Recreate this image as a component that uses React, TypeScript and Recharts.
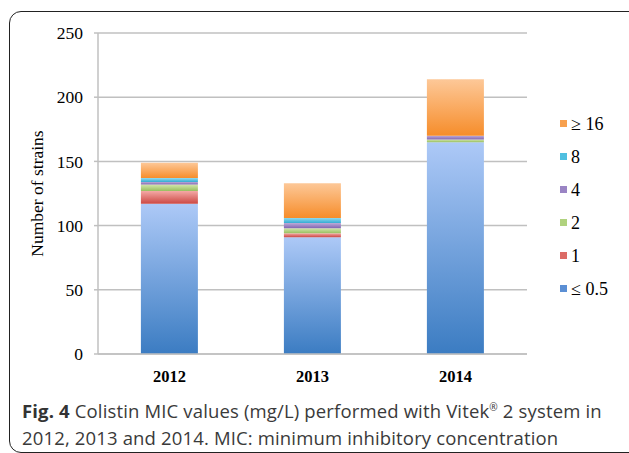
import React from 'react';
import { BarChart, Bar, XAxis, YAxis, CartesianGrid, Legend } from 'recharts';

const YEARS = ['2012', '2013', '2014'];
const MIC_LE_05 = [117, 91, 165];
const MIC_1 = [10, 3, 0];
const MIC_2 = [5, 4, 2];
const MIC_4 = [2, 4, 3];
const MIC_8 = [3, 4, 0];
const MIC_GE_16 = [12, 27, 44];
const Y_TICKS = [0, 50, 100, 150, 200, 250];
const EDGE_TICKS = [0, 1, 2, 3];

// bottom-to-top stacking order
const SERIES = [
  { key: 'le05', name: '≤ 0.5', top: '#adc9f7', bottom: '#3b7cc2', swatch: '#5b8fd4' },
  { key: 'm1', name: '1', top: '#f4a9a6', bottom: '#cc4843', swatch: '#dc6b66' },
  { key: 'm2', name: '2', top: '#d2e6ad', bottom: '#99bf60', swatch: '#b0d27e' },
  { key: 'm4', name: '4', top: '#bcaad8', bottom: '#8165b2', swatch: '#9a84c4' },
  { key: 'm8', name: '8', top: '#93daef', bottom: '#33acd3', swatch: '#4fbfe0' },
  { key: 'ge16', name: '≥ 16', top: '#fdc898', bottom: '#f68d2b', swatch: '#f7a04e' },
];

const data = YEARS.map((year, i) => ({
  year,
  le05: MIC_LE_05[i],
  m1: MIC_1[i],
  m2: MIC_2[i],
  m4: MIC_4[i],
  m8: MIC_8[i],
  ge16: MIC_GE_16[i],
}));

const serif = '"Liberation Serif", "Times New Roman", serif';
const gridColor = '#c0c0c0';

const LegendList = () => (
  <div>
    {[...SERIES].reverse().map((s) => (
      <div key={s.key} style={{ height: 33, display: 'flex', alignItems: 'center' }}>
        <span style={{ width: 7, height: 7, background: s.swatch, display: 'inline-block', marginRight: 4, marginTop: -3 }} />
        <span style={{ fontFamily: serif, fontSize: 18, color: '#000' }}>{s.name}</span>
      </div>
    ))}
  </div>
);

const YLabel = ({ viewBox }: any) => {
  const cy = viewBox.y + viewBox.height / 2;
  return (
    <text x={37} y={cy} transform={`rotate(-90 37 ${cy})`} textAnchor="middle" dominantBaseline="central"
      style={{ fontFamily: serif, fontSize: 17.5 }} fill="#000">
      Number of strains
    </text>
  );
};

export default function App() {
  return (
    <div style={{ position: 'absolute', left: 0, top: 0, width: 629, height: 453, overflow: 'hidden', background: '#fff' }}>
      <div style={{
        position: 'absolute', left: 9, top: 11, width: 640, height: 440,
        border: '1.5px solid #222', borderRadius: 12,
      }} />
      <div style={{ position: 'absolute', left: 0, top: 0 }}>
        <BarChart width={629} height={400} data={data} margin={{ top: 33, right: 102, left: 10, bottom: 16 }}
          barCategoryGap="30%">
          <defs>
            {SERIES.map((s) => (
              <linearGradient key={s.key} id={`g-${s.key}`} x1="0" y1="0" x2="0" y2="1">
                <stop offset="0%" stopColor={s.top} />
                <stop offset="100%" stopColor={s.bottom} />
              </linearGradient>
            ))}
          </defs>
          <CartesianGrid vertical={false} stroke={gridColor} strokeWidth={1.5} />
          <XAxis xAxisId="edges" type="number" domain={[0, 3]} ticks={EDGE_TICKS} height={0}
            axisLine={false} tick={false} tickSize={5} stroke={gridColor} tickLine={{ stroke: gridColor, strokeWidth: 1.5 }} />
          <XAxis xAxisId="cat" dataKey="year" height={30} tickLine={false}
            axisLine={{ stroke: gridColor, strokeWidth: 1.5 }} tickMargin={10}
            tick={{ fontFamily: serif, fontSize: 16.5, fontWeight: 'bold', fill: '#000' }} />
          <YAxis width={88} domain={[0, 250]} ticks={Y_TICKS} tickSize={4} tickMargin={11}
            axisLine={{ stroke: gridColor, strokeWidth: 1.5 }} tickLine={{ stroke: gridColor, strokeWidth: 1.5 }}
            tick={{ fontFamily: serif, fontSize: 17.5, fill: '#000' }} label={<YLabel />} />
          <Legend layout="vertical" align="center" verticalAlign="middle" content={<LegendList />}
            wrapperStyle={{ left: 560, top: 108, width: 66, height: 200 }} />
          {SERIES.map((s) => (
            <Bar key={s.key} xAxisId="cat" dataKey={s.key} name={s.name} stackId="mic"
              fill={`url(#g-${s.key})`} isAnimationActive={false} />
          ))}
        </BarChart>
      </div>
      <div style={{
        position: 'absolute', left: 22, top: 394, width: 610, whiteSpace: 'nowrap', letterSpacing: 0.15,
        fontFamily: '"Open Sans", sans-serif', fontSize: 18.5, lineHeight: '27px', color: '#3a3a3a',
      }}>
        <b style={{ color: '#333' }}>Fig. 4</b> Colistin MIC values (mg/L) performed with Vitek
        <span style={{ fontSize: '0.55em', verticalAlign: '0.7em' }}>®</span> 2 system in
        <br />
        2012, 2013 and 2014. MIC: minimum inhibitory concentration
      </div>
    </div>
  );
}
